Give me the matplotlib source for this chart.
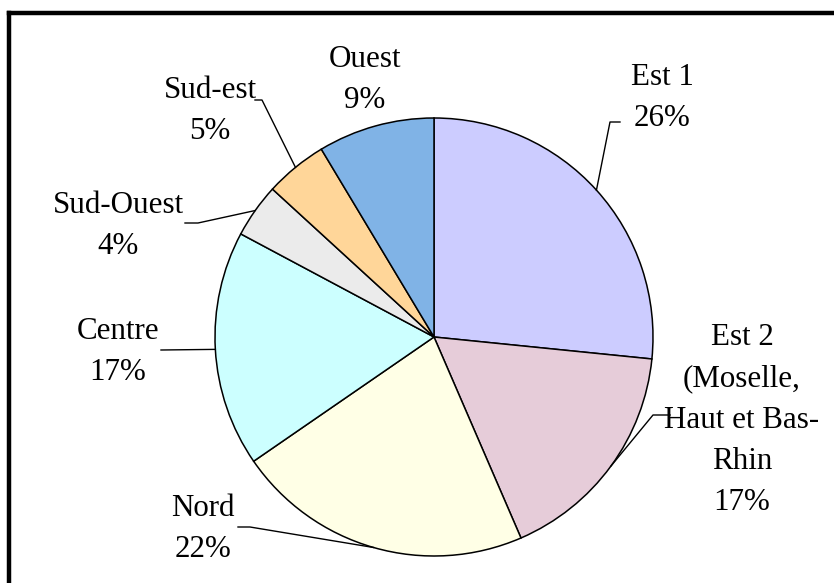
import matplotlib
matplotlib.use("Agg")
import numpy as np
import matplotlib.pyplot as plt

# Data
regions = ["Est 1", "Est 2\n(Moselle,\nHaut et Bas-\nRhin", "Nord", "Centre",
           "Sud-Ouest", "Sud-est", "Ouest"]
shares = [26.6, 16.9, 21.9, 17.4, 4.0, 4.6, 8.6]
pct_labels = ["26%", "17%", "22%", "17%", "4%", "5%", "9%"]
colors = ["#CCCCFF", "#E6CCD9", "#FFFFE6", "#CCFFFF", "#EBEBEB", "#FFD699", "#80B3E6"]

W, H = 834, 583
fig = plt.figure(figsize=(W / 100, H / 100), dpi=100)
ax = fig.add_axes([0, 0, 1, 1])

# pixel helper (y measured from the top)
def px(x, y):
    return x, H - y

cx, cy = px(434, 337)
R = 219
wedges, _ = ax.pie(shares, colors=colors, startangle=90, counterclock=False,
                   center=(cx, cy), radius=R, frame=True,
                   wedgeprops=dict(edgecolor="black", linewidth=1.1))
ax.set_xlim(0, W)
ax.set_ylim(0, H)
ax.axis("off")

# label centres and leader-line start/elbow (pixels)
text_pos = [(662, 98), (742, 420), (203, 529), (118, 352), (118, 226), (210, 111), (365, 80)]
leaders = [[(620, 122), (610, 122)], [(670, 415), (653, 415)], [(238, 527), (250, 527)],
           [(161, 350), (161, 350)], [(185, 223), (198, 223)], [(255, 100), (262, 100)], None]

for w, name, pct, tp, ld in zip(wedges, regions, pct_labels, text_pos, leaders):
    ax.text(*px(*tp), f"{name}\n{pct}", ha="center", va="center",
            fontsize=22.3, family="Liberation Serif", linespacing=1.55)
    if ld is None:
        continue
    mid = np.deg2rad((w.theta1 + w.theta2) / 2)
    rim = (cx + R * np.cos(mid), cy + R * np.sin(mid))
    pts = [px(*p) for p in ld] + [rim]
    ax.plot([p[0] for p in pts], [p[1] for p in pts], color="black", lw=1.0)

# chart frame (only the top and left edges are inside the picture)
fig.add_artist(plt.Line2D([9 / W, 9 / W], [0, 1 - 13 / H], transform=fig.transFigure,
                          color="black", lw=3.2, solid_capstyle="projecting"))
fig.add_artist(plt.Line2D([9 / W, 1], [1 - 13 / H, 1 - 13 / H], transform=fig.transFigure,
                          color="black", lw=3.2, solid_capstyle="projecting"))

fig.savefig("out.png", dpi=100, facecolor="white")
